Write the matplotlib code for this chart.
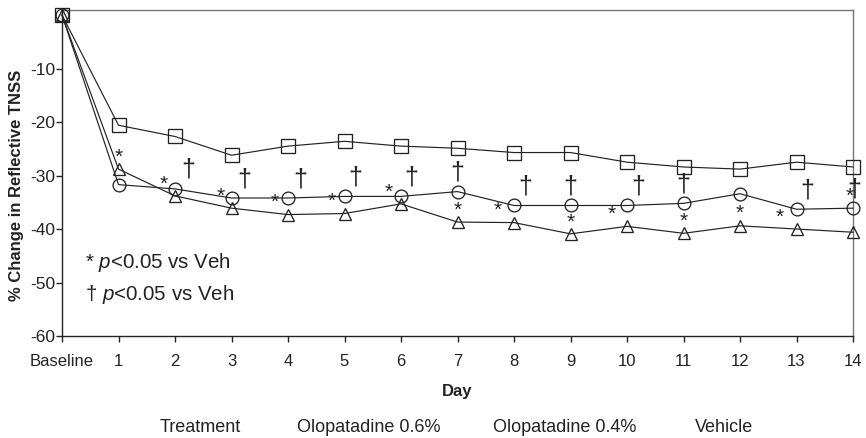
import matplotlib
matplotlib.use("Agg")
import matplotlib.pyplot as plt
import numpy as np

plt.rcParams['font.family'] = ['Liberation Sans', 'DejaVu Sans']
plt.rcParams['mathtext.fontset'] = 'custom'
plt.rcParams['mathtext.rm'] = 'Liberation Sans'
plt.rcParams['mathtext.it'] = 'Liberation Sans:italic'

# ---------------- data ----------------
days = list(range(0, 15))
day_labels = ["Baseline"] + [str(d) for d in range(1, 15)]
vehicle = [0, -20.6, -22.7, -26.2, -24.5, -23.6, -24.5, -24.9, -25.7, -25.7, -27.5, -28.4, -28.8, -27.5, -28.4]
olo_06 = [0, -31.7, -32.5, -34.2, -34.2, -33.9, -33.9, -33.0, -35.6, -35.6, -35.6, -35.2, -33.4, -36.3, -36.1]
olo_04 = [0, -28.8, -33.8, -36.1, -37.3, -37.1, -35.3, -38.7, -38.8, -40.9, -39.5, -40.8, -39.4, -40.0, -40.6]
yticks = [-10, -20, -30, -40, -50, -60]
legend_labels = ["Treatment", "Olopatadine 0.6%", "Olopatadine 0.4%", "Vehicle"]

# significance markers
star_days = [1, 2, 3, 4, 5, 6, 7, 8, 9, 10, 11, 12, 13, 14]
dagger_days = [2, 3, 4, 5, 6, 7, 8, 9, 10, 11, 13, 14]

# annotation layout (pixel offsets)
star_dx = {1: 0, 2: -11, 3: -11, 4: -13, 5: -13, 6: -12, 7: 0, 8: -16, 9: 0,
           10: -15, 11: 0, 12: 0, 13: -17, 14: -3}
dagger_dx = {2: 13, 3: 13, 4: 12, 5: 11, 6: 10, 7: 0, 8: 11, 9: 0, 10: 11,
             11: 0, 13: 11, 14: 1}

ink = '#222222'

fig = plt.figure(figsize=(8.66, 4.38), dpi=100)
ax = fig.add_axes([62/866, 1-336/438, (853-62)/866, (336-10)/438])

common = dict(color=ink, lw=0.85, mfc='none', mec=ink, mew=0.95, clip_on=False, zorder=3)
ax.plot(days, vehicle, marker='s', ms=9.5, **common)
ax.plot(days, olo_06, marker='o', ms=9.2, **common)
ax.plot(days, olo_04, marker='^', ms=9.0, **common)

px = 72/100.0
for d in star_days:
    if d == 14:
        base = olo_06[d]; dy = 12
    else:
        base = olo_04[d]; dy = 12
    ax.annotate('*', (d, base), xytext=(star_dx[d]*px, dy*px), textcoords='offset points',
                ha='center', va='center', fontsize=15, color=ink, annotation_clip=False)
for d in dagger_days:
    ax.annotate('\u2020', (d, olo_06[d]), xytext=(dagger_dx[d]*px, 19*px), textcoords='offset points',
                ha='center', va='center', fontsize=18, color=ink, annotation_clip=False)

ax.set_xlim(0, 14)
ax.set_ylim(-60, 0.95)
ax.set_xticks(days)
ax.set_xticklabels(day_labels)
ax.set_yticks(yticks)
ax.set_yticklabels([str(v) for v in yticks])
ax.tick_params(axis='x', direction='out', length=4, width=1, color=ink, labelsize=12, labelcolor=ink, pad=9)
ax.tick_params(axis='y', direction='out', length=4, width=1, color=ink, labelsize=12.5, labelcolor=ink, pad=1)

for s in ['left', 'bottom']:
    ax.spines[s].set_color(ink)
    ax.spines[s].set_linewidth(1.0)
for s in ['top', 'right']:
    ax.spines[s].set_color('#777777')
    ax.spines[s].set_linewidth(1.0)

ax.set_xlabel('Day', fontsize=12, fontweight='bold', color=ink)
ax.xaxis.set_label_coords(0.5, -(391.7-336)/326, transform=ax.transAxes)
ax.set_ylabel('% Change in Reflective TNSS', fontsize=12, fontweight='bold', color=ink)
ax.yaxis.set_label_coords((17-62)/791, (336-185)/326)
ax.xaxis.label.set_va('center')
ax.yaxis.label.set_va('center')

fig.text(85/866, 1-263/438, '* $p$<0.05 vs Veh', fontsize=14.8, color=ink, ha='left', va='center')
fig.text(85/866, 1-295/438, '\u2020 $p$<0.05 vs Veh', fontsize=14.8, color=ink, ha='left', va='center')

legend_x = [160, 297, 493, 695]
for lab, x in zip(legend_labels, legend_x):
    fig.text(x/866, 1-427/438, lab, fontsize=13, color=ink, ha='left', va='center')

fig.savefig('out.png', dpi=100)
